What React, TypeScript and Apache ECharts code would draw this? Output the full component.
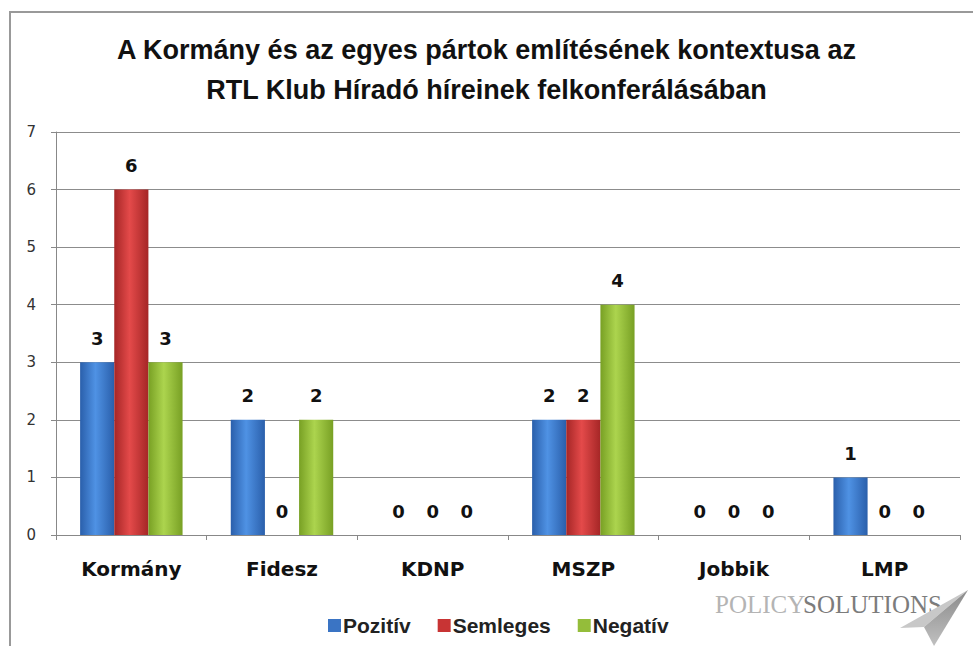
import React, { useEffect, useRef } from "react";
import * as echarts from "echarts";

const categories = ["Kormány", "Fidesz", "KDNP", "MSZP", "Jobbik", "LMP"];
const pozitiv = [3, 2, 0, 2, 0, 1];
const semleges = [6, 0, 0, 2, 0, 0];
const negativ = [3, 2, 0, 4, 0, 0];
const seriesNames = ["Pozitív", "Semleges", "Negatív"];
const titleLines = [
  "A Kormány és az egyes pártok említésének kontextusa az",
  "RTL Klub Híradó híreinek felkonferálásában",
];

function grad(dark: string, light: string) {
  return new echarts.graphic.LinearGradient(0, 0, 1, 0, [
    { offset: 0, color: dark },
    { offset: 0.45, color: light },
    { offset: 1, color: dark },
  ]);
}

export default function App() {
  const ref = useRef<HTMLDivElement>(null);
  useEffect(() => {
    if (!ref.current) return;
    const chart = echarts.init(ref.current, null, { renderer: "svg" });
    const labelStyle = {
      show: true,
      position: "top" as const,
      distance: 15,
      fontFamily: "DejaVu Sans",
      fontWeight: "bold" as const,
      fontSize: 18,
      color: "#111",
    };
    const palette = [
      { dark: "#2a5fab", light: "#4f92e4", legend: "#3a74c4" },
      { dark: "#a52626", light: "#e44a4a", legend: "#c83434" },
      { dark: "#78a024", light: "#acd44e", legend: "#94bd3a" },
    ];
    const data = [pozitiv, semleges, negativ];
    chart.setOption({
      animation: false,
      backgroundColor: "#fff",
      title: {
        text: titleLines.join("\n"),
        left: "center",
        top: 25,
        textStyle: {
          fontFamily: "Liberation Sans",
          fontWeight: "bold",
          fontSize: 27,
          lineHeight: 40,
          color: "#111",
        },
      },
      legend: {
        top: 610,
        left: 323,
        icon: "rect",
        itemWidth: 13,
        itemHeight: 13,
        itemGap: 27,
        textStyle: {
          fontFamily: "Liberation Sans",
          fontWeight: "bold",
          fontSize: 21,
          color: "#222",
          padding: [0, 0, 0, -3],
        },
        data: seriesNames.map((n, i) => ({
          name: n,
          itemStyle: { color: palette[i].legend },
        })),
      },
      grid: { left: 56, right: 13, top: 132, bottom: 111 },
      xAxis: {
        type: "category",
        data: categories,
        axisLine: { show: true, lineStyle: { color: "#888", width: 1 } },
        axisTick: { show: true, length: 5, lineStyle: { color: "#888" } },
        axisLabel: {
          margin: 24,
          fontFamily: "DejaVu Sans",
          fontWeight: "bold",
          fontSize: 20,
          color: "#111",
        },
      },
      yAxis: {
        type: "value",
        min: 0,
        max: 7,
        interval: 1,
        axisLine: { show: true, lineStyle: { color: "#888", width: 1 } },
        axisTick: { show: true, length: 5, lineStyle: { color: "#888" } },
        axisLabel: {
          margin: 20,
          fontFamily: "DejaVu Sans",
          fontSize: 15,
          color: "#333",
        },
        splitLine: { show: true, lineStyle: { color: "#8c8c8c", width: 1 } },
      },
      series: seriesNames.map((n, i) => ({
        name: n,
        type: "bar",
        data: data[i],
        barGap: "0%",
        barCategoryGap: "32%",
        itemStyle: { color: grad(palette[i].dark, palette[i].light) },
        label: labelStyle,
      })),
      graphic: [
        {
          type: "rect",
          shape: { x: 10, y: 12, width: 1000, height: 700 },
          style: { fill: "none", stroke: "#999", lineWidth: 2 },
          silent: true,
        },
        {
          type: "text",
          x: 715,
          y: 604,
          style: {
            text: "POLICY",
            fontFamily: "Liberation Serif",
            fontSize: 25,
            fill: "#b4b4b4",
            verticalAlign: "middle",
          },
        },
        {
          type: "text",
          x: 803,
          y: 604,
          style: {
            text: "SOLUTIONS",
            fontFamily: "Liberation Serif",
            fontSize: 25,
            fill: "#7c7c7c",
            verticalAlign: "middle",
          },
        },
        {
          type: "polygon",
          shape: {
            points: [
              [968, 590],
              [900, 628],
              [924, 627],
            ],
          },
          style: { fill: "#c8c8c8" },
        },
        {
          type: "polygon",
          shape: {
            points: [
              [968, 590],
              [924, 627],
              [934, 646],
            ],
          },
          style: {
            fill: new echarts.graphic.LinearGradient(0, 0, 0, 1, [
              { offset: 0, color: "#8a8a8a" },
              { offset: 1, color: "#c0c0c0" },
            ]),
          },
        },
      ],
    });
    return () => chart.dispose();
  }, []);
  return (
    <div
      ref={ref}
      style={{ position: "fixed", left: 0, top: 0, width: 973, height: 646 }}
    />
  );
}
